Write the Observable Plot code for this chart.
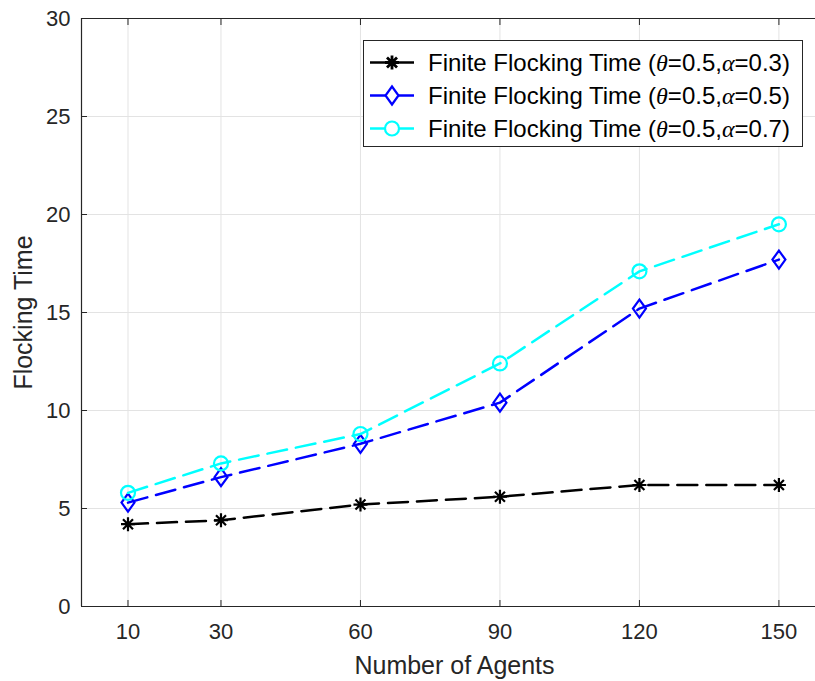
<!DOCTYPE html>
<html>
<head>
<meta charset="utf-8">
<script src="https://cdn.jsdelivr.net/npm/d3@7"></script>
<script src="https://cdn.jsdelivr.net/npm/@observablehq/plot@0.6"></script>
<style>
  html, body { margin: 0; padding: 0; background: #fff; }
  #chart { width: 815px; height: 681px; overflow: hidden; }
</style>
</head>
<body>
<div id="chart"></div>
<script>
// ---- data ----
const agents = [10, 30, 60, 90, 120, 150];
const timeA03 = [4.2, 4.4, 5.2, 5.6, 6.2, 6.2];
const timeA05 = [5.3, 6.6, 8.3, 10.4, 15.2, 17.7];
const timeA07 = [5.8, 7.3, 8.8, 12.4, 17.1, 19.5];
const thetas = [0.5, 0.5, 0.5];
const alphas = [0.3, 0.5, 0.7];
const yTicks = [0, 5, 10, 15, 20, 25, 30];
const xLabel = "Number of Agents";
const yLabel = "Flocking Time";
const seriesPrefix = "Finite Flocking Time";

// ---- styles ----
const colors = ["#000000", "#0000FF", "#00FFFF"];
const axisColor = "#262626";
const gridColor = "#E3E3E3";

const asteriskSym = { draw(ctx) {
  const a = 7, d = 5;
  ctx.moveTo(-a, 0); ctx.lineTo(a, 0);
  ctx.moveTo(0, -a); ctx.lineTo(0, a);
  ctx.moveTo(-d, -d); ctx.lineTo(d, d);
  ctx.moveTo(-d, d); ctx.lineTo(d, -d);
}};
const diamondSym = { draw(ctx) {
  ctx.moveTo(0, -9); ctx.lineTo(6.5, 0); ctx.lineTo(0, 9); ctx.lineTo(-6.5, 0); ctx.closePath();
}};
const circleSym = { draw(ctx) {
  ctx.moveTo(7, 0); ctx.arc(0, 0, 7, 0, 2 * Math.PI); ctx.closePath();
}};
const symbols = [asteriskSym, diamondSym, circleSym];
const seriesValues = [timeA03, timeA05, timeA07];

const series = seriesValues.map((vals, i) => ({
  idx: i,
  data: agents.map((a, j) => ({ agents: a, time: vals[j] }))
}));

const seriesMarks = series.flatMap(s => [
  Plot.line(s.data, { x: "agents", y: "time", stroke: colors[s.idx], strokeWidth: 2.5, strokeDasharray: "20,9" }),
  Plot.dot(s.data, { x: "agents", y: "time", symbol: symbols[s.idx], r: 7, stroke: colors[s.idx], fill: "none", strokeWidth: 2.2 })
]);

const fontSans = "'Liberation Sans', Arial, Helvetica, sans-serif";

const svg = Plot.plot({
  width: 815,
  height: 681,
  marginLeft: 81,
  marginRight: 0,
  marginTop: 18,
  marginBottom: 75,
  style: { fontFamily: fontSans, color: axisColor, background: "#fff", overflow: "hidden" },
  x: { domain: [0, 157.87] },
  y: { domain: [0, 30] },
  marks: [
    Plot.gridX(agents, { stroke: gridColor, strokeOpacity: 1, strokeWidth: 1 }),
    Plot.gridY(yTicks, { stroke: gridColor, strokeOpacity: 1, strokeWidth: 1 }),
    Plot.ruleX([0], { stroke: axisColor, strokeWidth: 1.2 }),
    Plot.ruleY([0], { stroke: axisColor, strokeWidth: 1.2 }),
    Plot.ruleY([30], { stroke: axisColor, strokeWidth: 1.2 }),
    Plot.axisX(agents, { anchor: "bottom", tickSize: -6, tickFormat: () => "", label: null, stroke: axisColor }),
    Plot.axisX(agents, { anchor: "top", tickSize: -6, tickFormat: () => "", label: null, stroke: axisColor }),
    Plot.axisY(yTicks, { anchor: "left", tickSize: -6, tickFormat: () => "", label: null, stroke: axisColor }),
    Plot.axisX(agents, { anchor: "bottom", tickSize: 0, tickPadding: 17, fontSize: 22, label: null, fill: axisColor }),
    Plot.axisY(yTicks, { anchor: "left", tickSize: 0, tickPadding: 11, fontSize: 22, label: null, fill: axisColor }),
    Plot.text([xLabel], { frameAnchor: "bottom", dx: 6, dy: 67, lineAnchor: "bottom", textAnchor: "middle", text: d => d, fontSize: 25, fill: axisColor }),
    Plot.text([yLabel], { frameAnchor: "left", dx: -58, rotate: -90, textAnchor: "middle", lineAnchor: "middle", text: d => d, fontSize: 25, fill: axisColor }),
    ...seriesMarks
  ]
});

// ---- legend ----
const lg = d3.select(svg).append("g").attr("font-family", fontSans).attr("text-anchor", "start");
lg.append("rect").attr("x", 363.5).attr("y", 40.5).attr("width", 439).attr("height", 106)
  .attr("fill", "#fff").attr("stroke", axisColor).attr("stroke-width", 1);
const rowY = [62.5, 95.5, 128.5];
alphas.forEach((a, i) => {
  const g = lg.append("g").attr("transform", `translate(0,${rowY[i]})`);
  g.append("line").attr("x1", 370).attr("x2", 414).attr("y1", 0).attr("y2", 0)
    .attr("stroke", colors[i]).attr("stroke-width", 2.5);
  g.append("path").attr("transform", "translate(392,0)").attr("d", d3.symbol(symbols[i])())
    .attr("fill", "#fff").attr("stroke", colors[i]).attr("stroke-width", i === 0 ? 2.8 : 2.2);
  const t = g.append("text").attr("x", 428).attr("y", 0).attr("dy", "0.36em")
    .attr("text-anchor", "start").attr("font-size", 24).attr("fill", "#000");
  t.append("tspan").text(seriesPrefix + " (");
  t.append("tspan").attr("font-family", "'Liberation Serif', 'Times New Roman', serif").attr("font-style", "italic").text("θ");
  t.append("tspan").text("=" + thetas[i] + ",");
  t.append("tspan").attr("font-family", "'Liberation Serif', 'Times New Roman', serif").attr("font-style", "italic").text("α");
  t.append("tspan").text("=" + a + ")");
});

document.getElementById("chart").appendChild(svg);
</script>
</body>
</html>
